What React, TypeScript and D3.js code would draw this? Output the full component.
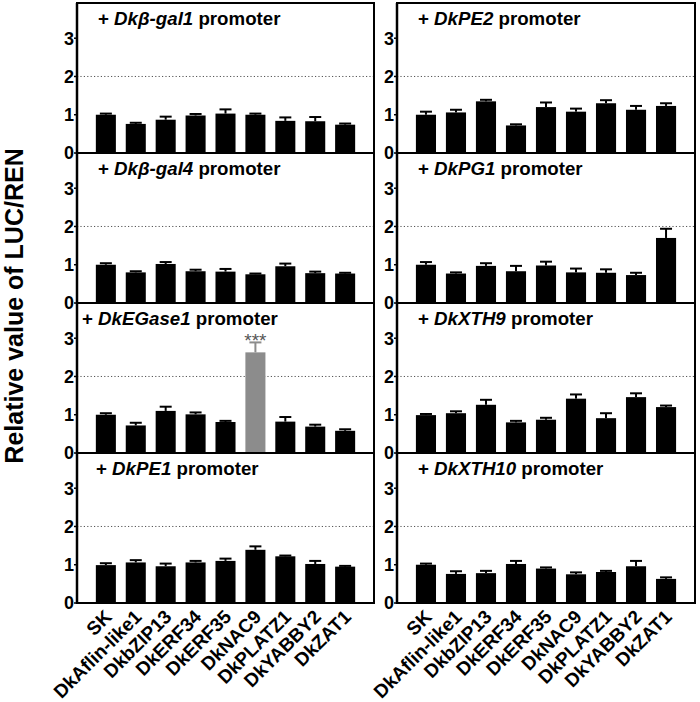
import React from "react";
import * as d3 from "d3";

const categories = ["SK", "DkAflin-like1", "DkbZIP13", "DkERF34", "DkERF35", "DkNAC9", "DkPLATZ1", "DkYABBY2", "DkZAT1"];
const yTicks = [0, 1, 2, 3];

const promoters = ["Dkβ-gal1", "DkPE2", "Dkβ-gal4", "DkPG1", "DkEGase1", "DkXTH9", "DkPE1", "DkXTH10"];

const meanGal1 = [1.0, 0.76, 0.87, 0.98, 1.03, 1.0, 0.84, 0.83, 0.74];
const seGal1 = [0.03, 0.03, 0.08, 0.04, 0.11, 0.03, 0.09, 0.11, 0.03];
const meanPE2 = [1.0, 1.06, 1.35, 0.72, 1.2, 1.08, 1.3, 1.13, 1.23];
const sePE2 = [0.08, 0.07, 0.04, 0.03, 0.12, 0.08, 0.08, 0.1, 0.07];
const meanGal4 = [1.0, 0.8, 1.02, 0.83, 0.82, 0.75, 0.96, 0.78, 0.77];
const seGal4 = [0.04, 0.03, 0.05, 0.04, 0.07, 0.02, 0.07, 0.04, 0.02];
const meanPG1 = [1.0, 0.77, 0.97, 0.83, 0.98, 0.8, 0.79, 0.73, 1.7];
const sePG1 = [0.07, 0.03, 0.07, 0.14, 0.1, 0.1, 0.09, 0.06, 0.24];
const meanEGase1 = [1.0, 0.72, 1.1, 1.01, 0.81, 2.63, 0.82, 0.69, 0.58];
const seEGase1 = [0.04, 0.07, 0.11, 0.05, 0.03, 0.26, 0.12, 0.05, 0.04];
const meanXTH9 = [0.99, 1.04, 1.26, 0.8, 0.87, 1.42, 0.91, 1.46, 1.2];
const seXTH9 = [0.03, 0.05, 0.13, 0.04, 0.05, 0.11, 0.13, 0.1, 0.04];
const meanPE1 = [0.99, 1.06, 0.96, 1.06, 1.1, 1.39, 1.22, 1.02, 0.95];
const sePE1 = [0.05, 0.06, 0.07, 0.04, 0.06, 0.09, 0.02, 0.08, 0.02];
const meanXTH10 = [1.0, 0.76, 0.78, 1.02, 0.9, 0.75, 0.81, 0.96, 0.63];
const seXTH10 = [0.03, 0.07, 0.06, 0.08, 0.03, 0.05, 0.03, 0.14, 0.04];

const means = [meanGal1, meanPE2, meanGal4, meanPG1, meanEGase1, meanXTH9, meanPE1, meanXTH10];
const ses = [seGal1, sePE2, seGal4, sePG1, seEGase1, seXTH9, sePE1, seXTH10];
// significant bar: panel index, category index
const sigPanel = 4;
const sigBar = 5;
const sigLabel = "***";

const FONT = "'Liberation Sans', Arial, Helvetica, sans-serif";

const colX = [[77, 374], [397, 695]];
const rowZero = [153, 303, 453, 603];
const panelH = 150;
const yMax = 3.92;
const titleX = [21, 21, 21, 21, 5, 21, 19, 21];

function Panel({ idx }: { idx: number }) {
  const col = idx % 2;
  const row = Math.floor(idx / 2);
  const [x0, x1] = colX[col];
  const y0 = rowZero[row];
  const y = d3.scaleLinear().domain([0, yMax]).range([y0, y0 - panelH]);
  const x = d3.scaleBand<string>().domain(categories).range([x0, x1]).paddingInner(0.33).paddingOuter(0.63);
  const bw = x.bandwidth();
  const m = means[idx];
  const s = ses[idx];
  const capW = 12;
  return (
    <g>
      <line x1={x0} x2={x1} y1={y(2)} y2={y(2)} stroke="#555" strokeWidth={1} strokeDasharray="1.2,2.2" />
      {categories.map((c, i) => {
        const cx = (x(c) as number) + bw / 2;
        const sig = idx === sigPanel && i === sigBar;
        const color = sig ? "#8c8c8c" : "#000";
        const top = y(m[i] + s[i]);
        return (
          <g key={c}>
            <line x1={cx} x2={cx} y1={y(m[i])} y2={top} stroke={color} strokeWidth={2} />
            <line x1={cx - capW / 2} x2={cx + capW / 2} y1={top} y2={top} stroke={color} strokeWidth={2} />
            <rect x={x(c)} y={y(m[i])} width={bw} height={y0 - y(m[i])} fill={color} />
            {sig && (
              <text x={cx} y={top + 5} textAnchor="middle" fontSize={19} fontFamily={FONT} fill="#555">{sigLabel}</text>
            )}
          </g>
        );
      })}
      <rect x={x0} y={y0 - panelH} width={x1 - x0} height={panelH} fill="none" stroke="#000" strokeWidth={2} />
      <line x1={x0} x2={x0} y1={y0 - panelH} y2={y0 + 1} stroke="#000" strokeWidth={2.5} />
      {yTicks.map((t) => (
        <g key={t}>
          <line x1={x0 - 3} x2={x0} y1={y(t)} y2={y(t)} stroke="#000" strokeWidth={1.5} />
          <text x={x0 - 3} y={y(t)} dy="0.36em" textAnchor="end" fontSize={18} fontWeight="bold" fontFamily={FONT}>{t}</text>
        </g>
      ))}
      <text x={x0 + titleX[idx]} y={y0 - panelH + 22} fontSize={18.7} fontWeight="bold" fontFamily={FONT}>
        {"+ "}<tspan fontStyle="italic">{promoters[idx]}</tspan>{" promoter"}
      </text>
      {row === 3 && categories.map((c) => {
        const cx = (x(c) as number) + bw / 2;
        return (
          <text key={c} transform={`translate(${cx + 7},${y0 + 15}) rotate(-45)`} textAnchor="end" fontSize={19} fontWeight="bold" fontFamily={FONT}>{c}</text>
        );
      })}
    </g>
  );
}

export default function App() {
  return (
    <svg width={700} height={702} style={{ position: "absolute", left: 0, top: 0, background: "#fff" }}>
      <rect width={700} height={702} fill="#fff" />
      {promoters.map((p, i) => <Panel key={p} idx={i} />)}
      <text transform="translate(23,306) rotate(-90)" textAnchor="middle" fontSize={25} fontWeight="bold" fontFamily={FONT}>Relative value of LUC/REN</text>
    </svg>
  );
}
